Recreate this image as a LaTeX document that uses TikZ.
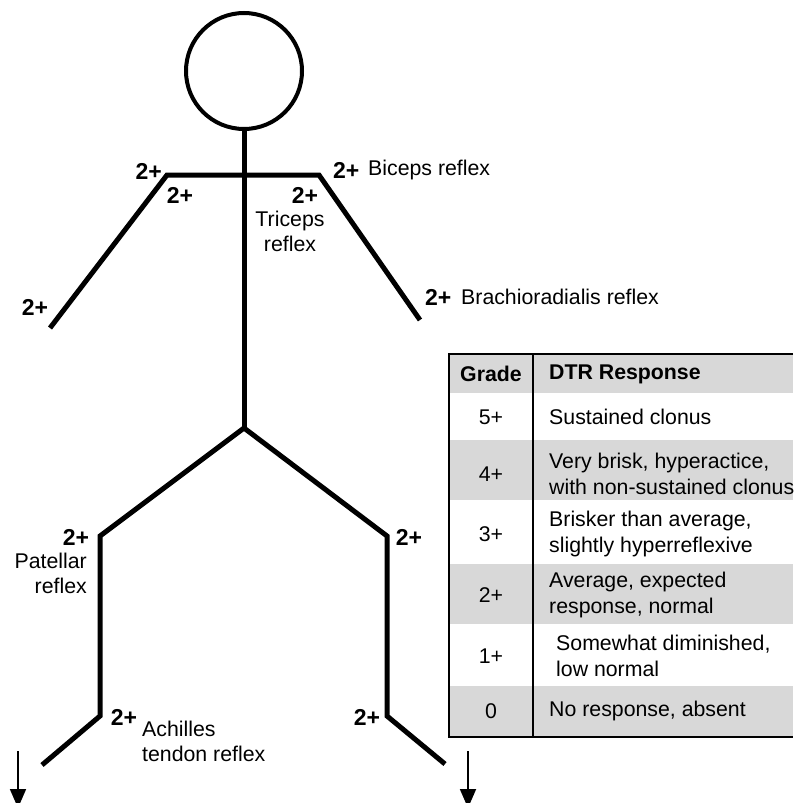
\documentclass[tikz,border=0pt]{standalone}
\usepackage{fontspec}
\setmainfont{Liberation Sans}
\usetikzlibrary{arrows.meta}
\definecolor{rowgray}{RGB}{216,216,216}
\begin{document}
\begin{tikzpicture}[x=1pt,y=-1pt,
  limb/.style={line width=5pt,line cap=butt,line join=miter},
  grade/.style={font=\fontsize{23}{26}\selectfont\bfseries,inner sep=0pt},
  lbl/.style={font=\fontsize{21.3}{25}\selectfont,inner sep=0pt},
  cell/.style={font=\fontsize{21.3}{26}\selectfont,inner sep=0pt,align=left,anchor=west},
  gcell/.style={font=\fontsize{21.3}{26}\selectfont,inner sep=0pt},
  pointer/.style={line width=1.8pt,-{Triangle[width=16pt,length=19pt]}}]
\useasboundingbox (0,0) rectangle (793,803);
\clip (0,0) rectangle (793,803);

% ---- stick figure ----
\node[draw,circle,line width=4pt,minimum size=116pt,inner sep=0pt] (head) at (244,71) {};
\coordinate (hip) at (244,428);
\coordinate (shL) at (167,175);
\coordinate (shR) at (319,175);
\coordinate (handL) at (50,328);
\coordinate (handR) at (420,320);
\coordinate (kneeL) at (100,536);
\coordinate (kneeR) at (387,536);
\coordinate (ankL) at (100,716);
\coordinate (ankR) at (387,716);
\coordinate (footL) at (42,765);
\coordinate (footR) at (445,764);

\draw[limb] (head.south) -- (hip);
\draw[limb] (handL) -- (shL) -- (shR) -- (handR);
\draw[limb] (footL) -- (ankL) -- (kneeL) -- (hip) -- (kneeR) -- (ankR) -- (footR);

% ---- downward arrows (tips run past the lower edge) ----
\coordinate (arL0) at (18,751);
\coordinate (arL1) at (18,808);
\coordinate (arR0) at (468,751);
\coordinate (arR1) at (468,808);
\draw[pointer] (arL0) -- (arL1);
\draw[pointer] (arR0) -- (arR1);

% ---- reflex grades ----
\node[grade,anchor=east] (g1) at (162,171) {2+};
\node[grade] (g2) at (180,195) {2+};
\node[grade] (g3) at (305,195) {2+};
\node[lbl,align=center] (tri) at (290,231) {Triceps\\reflex};
\node[grade,anchor=west] (g4) at (333,170) {2+};
\node[lbl,anchor=west] (bic) at (368,170) {Biceps reflex};
\node[grade] (g5) at (35,307) {2+};
\node[grade,anchor=west] (g6) at (425,297) {2+};
\node[lbl,anchor=west] (bra) at (461,297) {Brachioradialis reflex};
\node[grade] (g7) at (76,537) {2+};
\node[lbl,align=right,anchor=east] (pat) at (87,573) {Patellar\\reflex};
\node[grade] (g8) at (409,537) {2+};
\node[grade] (g9) at (124,717) {2+};
\node[lbl,align=left,anchor=west] (ach) at (142,741) {Achilles\\tendon reflex};
\node[grade] (g10) at (367,717) {2+};

% ---- DTR grading table ----
\fill[rowgray] (449,354) rectangle (793,393);
\fill[rowgray] (449,440) rectangle (793,500);
\fill[rowgray] (449,564) rectangle (793,624);
\fill[rowgray] (449,686) rectangle (793,737);
\draw[line width=2pt] (793,354) -- (449,354) -- (449,737) -- (793,737);
\draw[line width=2pt] (533,354) -- (533,737);

\node[gcell,font=\fontsize{21.3}{26}\selectfont\bfseries] (hg) at (491,374) {Grade};
\node[cell,font=\fontsize{21.3}{26}\selectfont\bfseries] (hr) at (549,374) {DTR Response};
\node[gcell] (r5) at (491,417) {5+};
\node[cell] (t5) at (549,417) {Sustained clonus};
\node[gcell] (r4) at (491,474) {4+};
\node[cell] (t4) at (549,474) {Very brisk, hyperactice,\\with non-sustained clonus};
\node[gcell] (r3) at (491,534) {3+};
\node[cell] (t3) at (549,534) {Brisker than average,\\slightly hyperreflexive};
\node[gcell] (r2) at (491,595) {2+};
\node[cell] (t2) at (549,595) {Average, expected\\response, normal};
\node[gcell] (r1) at (491,656) {1+};
\node[cell] (t1) at (556,656) {Somewhat diminished,\\low normal};
\node[gcell] (r0) at (491,711) {0};
\node[cell] (t0) at (549,711) {No response, absent};
\end{tikzpicture}
\end{document}
